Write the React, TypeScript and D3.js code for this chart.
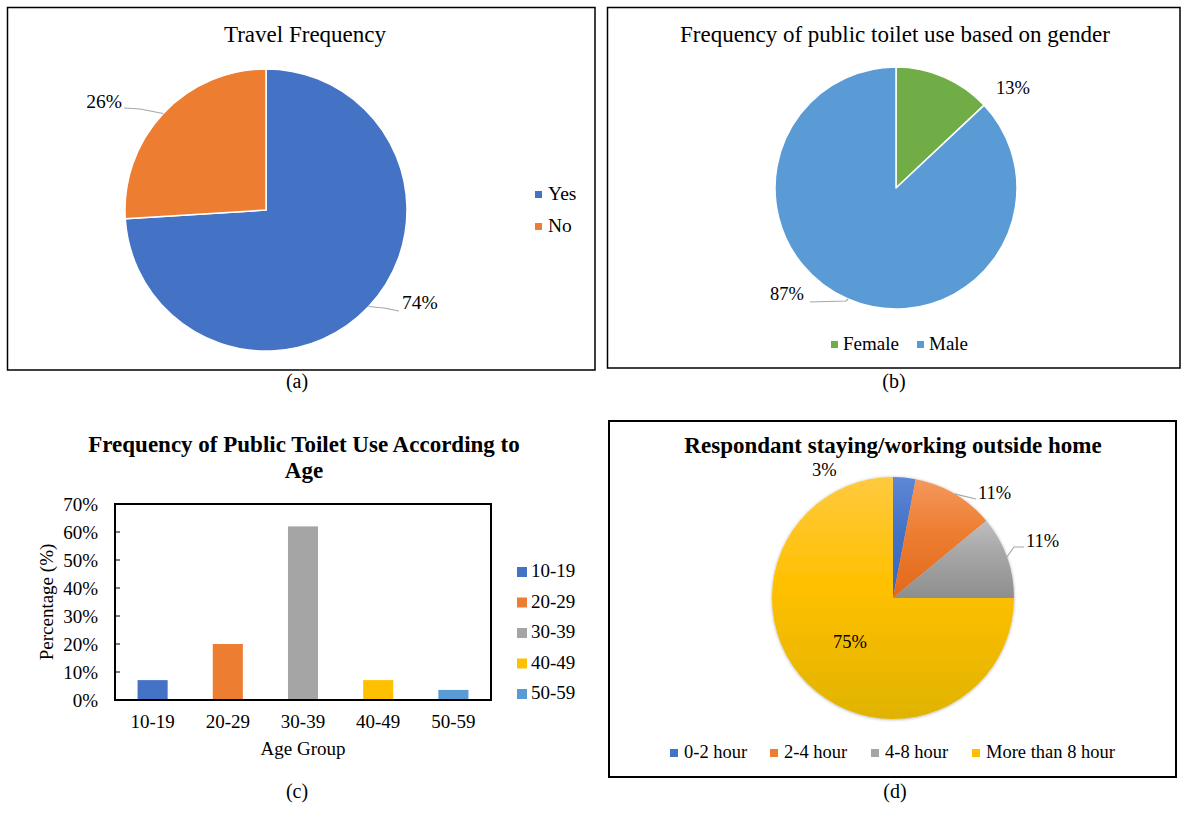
import React from "react";
import * as d3 from "d3";

const FONT = "'Liberation Serif', 'Times New Roman', Times, serif";

// ---------- DATA ----------
const travelCats = ["Yes", "No"];
const travelVals = [74, 26];

const genderCats = ["Female", "Male"];
const genderVals = [13, 87];

const ageCats = ["10-19", "20-29", "30-39", "40-49", "50-59"];
const ageVals = [0.071, 0.2, 0.62, 0.071, 0.036];
const ageTicks = [0, 0.1, 0.2, 0.3, 0.4, 0.5, 0.6, 0.7];

const hourCats = ["0-2 hour", "2-4 hour", "4-8 hour", "More than 8 hour"];
const hourVals = [3, 11, 11, 75];

// ---------- STYLE ----------
const travelColors = ["#4472C4", "#ED7D31"];
const genderColors = ["#70AD47", "#5B9BD5"];
const ageColors = ["#4472C4", "#ED7D31", "#A5A5A5", "#FFC000", "#5B9BD5"];
const hourGrad = [
  ["#5D88D8", "#4472C4", "#3A67C2"],
  ["#F5985E", "#ED7D31", "#E2691B"],
  ["#BEBEBE", "#A5A5A5", "#8E8E8E"],
  ["#FFC93F", "#FFC000", "#E0B300"],
];
const hourSolid = ["#4472C4", "#ED7D31", "#A5A5A5", "#FFC000"];
const LEADER = "#A6A6A6";

type LabelLayout = {
  dx: number;
  dy: number;
  anchor: "start" | "end" | "middle";
  leader?: [number, number][];
};

function Pie(props: {
  cx: number;
  cy: number;
  r: number;
  values: number[];
  fills: string[];
  stroke?: string;
  labels: LabelLayout[];
  fontSize: number;
  filter?: string;
}) {
  const { cx, cy, r, values, fills, stroke, labels, fontSize, filter } = props;
  const total = d3.sum(values);
  const arcs = d3
    .pie<number>()
    .sort(null)
    .value((d) => d)(values);
  const arc = d3.arc<d3.PieArcDatum<number>>().innerRadius(0).outerRadius(r);
  return (
    <g transform={`translate(${cx},${cy})`}>
      <g filter={filter}>
        {arcs.map((a, i) => (
          <path
            key={i}
            d={arc(a) || ""}
            fill={fills[i]}
            stroke={stroke || "none"}
            strokeWidth={stroke ? 1.5 : 0}
            strokeLinejoin="round"
          />
        ))}
      </g>
      {arcs.map((a, i) => {
        const L = labels[i];
        const mid = (a.startAngle + a.endAngle) / 2;
        const ex = r * Math.sin(mid);
        const ey = -r * Math.cos(mid);
        const pts = L.leader ? [[ex, ey], ...L.leader] : null;
        return (
          <g key={"l" + i}>
            {pts && (
              <polyline
                points={pts.map((p) => p.join(",")).join(" ")}
                fill="none"
                stroke={LEADER}
                strokeWidth={1.2}
              />
            )}
            <text
              x={L.dx}
              y={L.dy}
              textAnchor={L.anchor}
              fontSize={fontSize}
              fontFamily={FONT}
              fill="#000"
            >
              {Math.round((a.data / total) * 100) + "%"}
            </text>
          </g>
        );
      })}
    </g>
  );
}

export default function App() {
  // bar chart scales
  const plot = { left: 115, right: 491, top: 504, bottom: 700 };
  const x = d3
    .scaleBand<string>()
    .domain(ageCats)
    .range([plot.left, plot.right])
    .paddingInner(0.6)
    .paddingOuter(0.3);
  const y = d3.scaleLinear().domain([0, 0.7]).range([plot.bottom, plot.top]);
  const pct = d3.format(".0%");

  const titleStyle = { fontFamily: FONT, fontSize: 23, fill: "#000" };

  return (
    <svg
      width={1183}
      height={814}
      style={{ position: "absolute", left: 0, top: 0, background: "#fff" }}
      xmlns="http://www.w3.org/2000/svg"
    >
      <defs>
        {hourGrad.map((g, i) => (
          <linearGradient key={i} id={"hg" + i} x1="0" y1="0" x2="0" y2="1">
            <stop offset="0%" stopColor={g[0]} />
            <stop offset="45%" stopColor={g[1]} />
            <stop offset="100%" stopColor={g[2]} />
          </linearGradient>
        ))}
        <filter id="pshadow" x="-10%" y="-10%" width="120%" height="120%">
          <feDropShadow dx="0" dy="0.5" stdDeviation="1.4" floodColor="#000" floodOpacity="0.35" />
        </filter>
      </defs>
      <rect x={0} y={0} width={1183} height={814} fill="#fff" />

      {/* ---------- (a) Travel Frequency ---------- */}
      <rect x={7.5} y={7.5} width={587.5} height={362.5} fill="none" stroke="#000" strokeWidth={1.5} />
      <text x={305} y={42} textAnchor="middle" {...titleStyle}>
        Travel Frequency
      </text>
      <Pie
        cx={266}
        cy={210}
        r={141}
        values={travelVals}
        fills={travelColors}
        stroke="#fff"
        fontSize={19.5}
        labels={[
          { dx: 136, dy: 99, anchor: "start", leader: [[118, 98], [133, 101]] },
          { dx: -144, dy: -102, anchor: "end", leader: [[-126, -101], [-142, -102]] },
        ]}
      />
      {travelCats.map((c, i) => (
        <g key={c}>
          <rect x={535} y={191 + i * 32} width={7} height={7} fill={travelColors[i]} />
          <text x={548} y={200 + i * 32} fontFamily={FONT} fontSize={19.5}>
            {c}
          </text>
        </g>
      ))}
      <text x={297} y={388} textAnchor="middle" fontFamily={FONT} fontSize={20}>
        (a)
      </text>

      {/* ---------- (b) Gender ---------- */}
      <rect x={607.5} y={7.5} width={572.5} height={360.5} fill="none" stroke="#000" strokeWidth={1.5} />
      <text x={895} y={42} textAnchor="middle" {...titleStyle}>
        Frequency of public toilet use based on gender
      </text>
      <Pie
        cx={896}
        cy={188}
        r={121}
        values={genderVals}
        fills={genderColors}
        stroke="#fff"
        fontSize={18.5}
        labels={[
          { dx: 100, dy: -94, anchor: "start" },
          { dx: -92, dy: 112, anchor: "end", leader: [[-50, 113], [-86, 114]] },
        ]}
      />
      {genderCats.map((c, i) => (
        <g key={c}>
          <rect x={[831, 917][i]} y={341} width={7} height={7} fill={genderColors[i]} />
          <text x={[831, 917][i] + 12} y={350} fontFamily={FONT} fontSize={19}>
            {c}
          </text>
        </g>
      ))}
      <text x={894} y={388} textAnchor="middle" fontFamily={FONT} fontSize={20}>
        (b)
      </text>

      {/* ---------- (c) Age bar chart ---------- */}
      <text x={304} y={452} textAnchor="middle" {...titleStyle} fontWeight="bold">
        Frequency of Public Toilet Use According to
      </text>
      <text x={304} y={478} textAnchor="middle" {...titleStyle} fontWeight="bold">
        Age
      </text>
      {ageTicks.map((t) => (
        <g key={t}>
          <line x1={plot.left} x2={plot.left + 5} y1={y(t)} y2={y(t)} stroke="#000" strokeWidth={1} />
          <text x={98} y={y(t) + 7} textAnchor="end" fontFamily={FONT} fontSize={19}>
            {pct(t)}
          </text>
        </g>
      ))}
      {ageCats.map((c, i) => (
        <rect
          key={c}
          x={x(c)}
          y={y(ageVals[i])}
          width={x.bandwidth()}
          height={y(0) - y(ageVals[i])}
          fill={ageColors[i]}
        />
      ))}
      <rect
        x={plot.left}
        y={plot.top}
        width={plot.right - plot.left}
        height={plot.bottom - plot.top}
        fill="none"
        stroke="#000"
        strokeWidth={2}
      />
      {ageCats.map((c) => (
        <text
          key={"t" + c}
          x={(x(c) || 0) + x.bandwidth() / 2}
          y={728}
          textAnchor="middle"
          fontFamily={FONT}
          fontSize={19}
        >
          {c}
        </text>
      ))}
      <text x={303} y={755} textAnchor="middle" fontFamily={FONT} fontSize={19}>
        Age Group
      </text>
      <text
        transform={`translate(53,${(plot.top + plot.bottom) / 2}) rotate(-90)`}
        textAnchor="middle"
        fontFamily={FONT}
        fontSize={19}
      >
        Percentage (%)
      </text>
      {ageCats.map((c, i) => (
        <g key={"lg" + c}>
          <rect x={517} y={567 + i * 30.5} width={10} height={10} fill={ageColors[i]} />
          <text x={531} y={577 + i * 30.5} fontFamily={FONT} fontSize={19}>
            {c}
          </text>
        </g>
      ))}
      <text x={297} y={798} textAnchor="middle" fontFamily={FONT} fontSize={20}>
        (c)
      </text>

      {/* ---------- (d) Hours outside home ---------- */}
      <rect x={609} y={421} width={567} height={356} fill="none" stroke="#000" strokeWidth={2} />
      <text x={893} y={453} textAnchor="middle" {...titleStyle} fontWeight="bold">
        Respondant staying/working outside home
      </text>
      <Pie
        cx={893}
        cy={598}
        r={121}
        values={hourVals}
        fills={hourVals.map((_, i) => `url(#hg${i})`)}
        fontSize={18.5}
        filter="url(#pshadow)"
        labels={[
          { dx: -81, dy: -122, anchor: "start" },
          { dx: 85, dy: -99, anchor: "start", leader: [[83, -99]] },
          { dx: 133, dy: -51, anchor: "start", leader: [[121, -51], [131, -51]] },
          { dx: -60, dy: 50, anchor: "start" },
        ]}
      />
      {hourCats.map((c, i) => (
        <g key={c}>
          <rect x={[670, 770, 871, 972][i]} y={749} width={8} height={8} fill={hourSolid[i]} />
          <text x={[670, 770, 871, 972][i] + 14} y={758} fontFamily={FONT} fontSize={18.5}>
            {c}
          </text>
        </g>
      ))}
      <text x={895} y={798} textAnchor="middle" fontFamily={FONT} fontSize={20}>
        (d)
      </text>
    </svg>
  );
}
